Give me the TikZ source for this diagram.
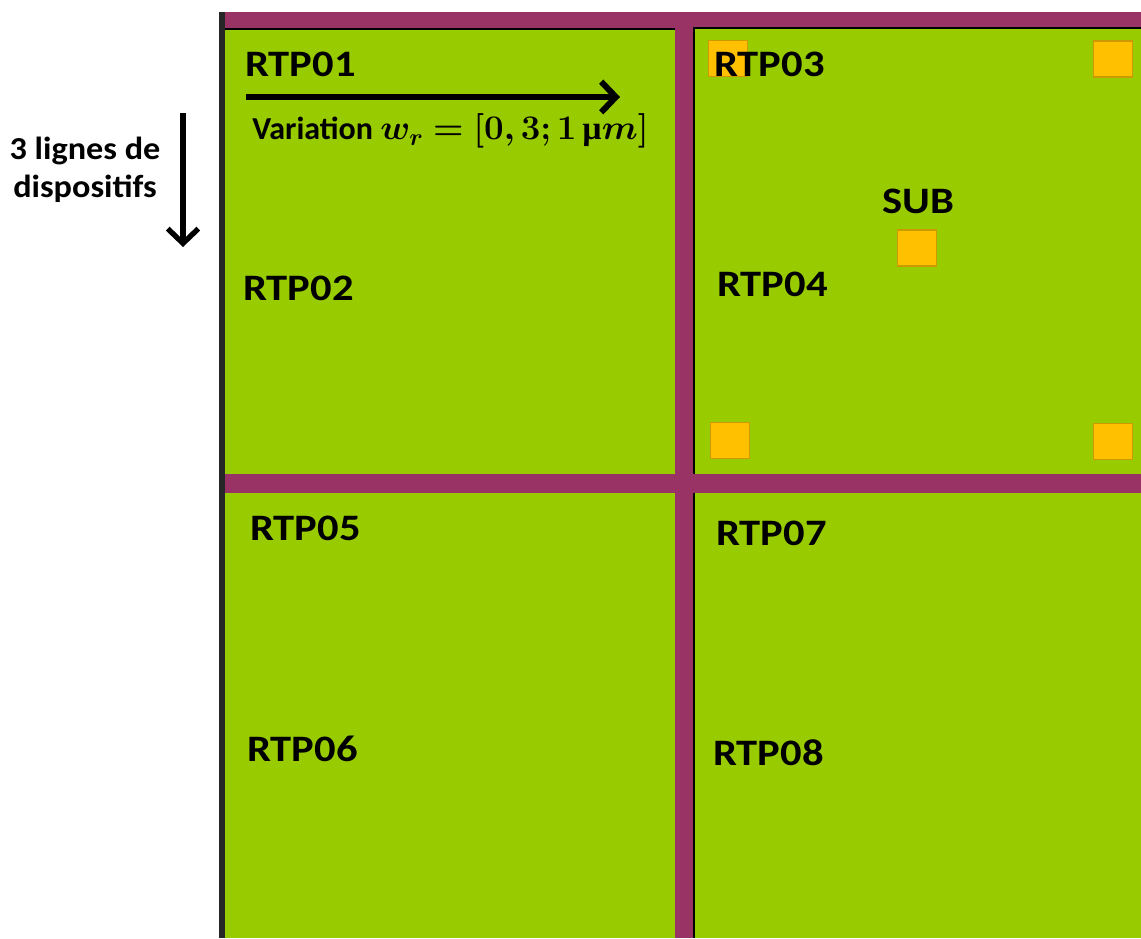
\documentclass[tikz,border=0pt]{standalone}
\usepackage{fontspec}
\setmainfont{Carlito}
\newfontfamily\mufont{Liberation Serif}
\usepackage{amsmath, amssymb, bm}
\usepackage{graphicx}
\usepackage{xcolor}
\usetikzlibrary{arrows.meta, positioning}

\definecolor{chipgreen}{HTML}{99CC00}
\definecolor{chipframe}{HTML}{993366}
\definecolor{padfill}{HTML}{FFC000}
\definecolor{padedge}{HTML}{CC9A00}

\newcommand{\wrrange}{\scalebox{1.05}[1.04]{$\bm{w_r}\bm{=}\bm{[0,3;1}\,\text{\mufont µ}\bm{m]}$}}

\begin{document}
\begin{tikzpicture}[
    x=0.75pt, y=-0.75pt,
    panel/.style={fill=chipgreen},
    pad/.style={draw=padedge, fill=padfill, line width=1pt,
                minimum width=29pt, minimum height=27pt, inner sep=0pt},
    lbl/.style={font=\bfseries\fontsize{28}{30}\selectfont, anchor=west,
                inner sep=0pt, xscale=1.14, transform shape},
    arr/.style={-{Straight Barb[length=11pt, width=23pt]}},
  ]
  \useasboundingbox (0,0) rectangle (1141,938);

  % Frame and panels
  \fill[chipframe] (219,12) rectangle (1141,938);
  \fill[panel] (225,29)  rectangle (675,474);
  \fill[panel] (225,493) rectangle (675,938);
  \fill[panel] (693,29)  rectangle (1141,474);
  \fill[panel] (693,493) rectangle (1141,938);
  \draw[line width=1pt] (225,29) -- (675,29);
  \draw[line width=1pt] (693,28) -- (1141,28);
  \draw[line width=1pt] (694,29) -- (694,474);
  \draw[line width=1pt] (694,493) -- (694,938);
  \draw[line width=4.5pt, black!85] (222,12) -- (222,938);

  % Contact pads
  \node[pad] (padA) at (728,58.5)  {};
  \node[pad] (padB) at (1113,59)   {};
  \node[pad] (padC) at (917,248)   {};
  \node[pad] (padD) at (730,440.5) {};
  \node[pad] (padE) at (1113,441.5){};

  % Device labels
  \node[lbl] (rtp01) at (245,64)  {RTP01};
  \node[lbl] (rtp02) at (243,288) {RTP02};
  \node[lbl] (rtp03) at (714,64.5){RTP03};
  \node[lbl] (rtp04) at (717,284) {RTP04};
  \node[lbl] (rtp05) at (250,528) {RTP05};
  \node[lbl] (rtp06) at (247,749) {RTP06};
  \node[lbl] (rtp07) at (716,533) {RTP07};
  \node[lbl] (rtp08) at (713,753) {RTP08};
  \node[lbl, anchor=center] (sub) at (918,201) {SUB};

  % Width variation along a line
  \coordinate (varL) at (246,97);
  \coordinate (varR) at (620,97);
  \draw[arr, line width=4.5pt] (varL) -- (varR);
  \node[font=\bfseries\fontsize{24}{26}\selectfont, anchor=base west,
        inner sep=0pt] (variation) at (252,140) {Variation \wrrange};

  % Device lines
  \coordinate (lineT) at (183,113);
  \coordinate (lineB) at (183,247);
  \draw[arr, line width=4pt] (lineT) -- (lineB);
  \node[font=\bfseries\fontsize{24}{28}\selectfont, align=center,
        anchor=base, inner sep=0pt, xscale=1.07, transform shape]
    (lines) at (85,197) {3 lignes de\\dispositifs};
\end{tikzpicture}
\end{document}
